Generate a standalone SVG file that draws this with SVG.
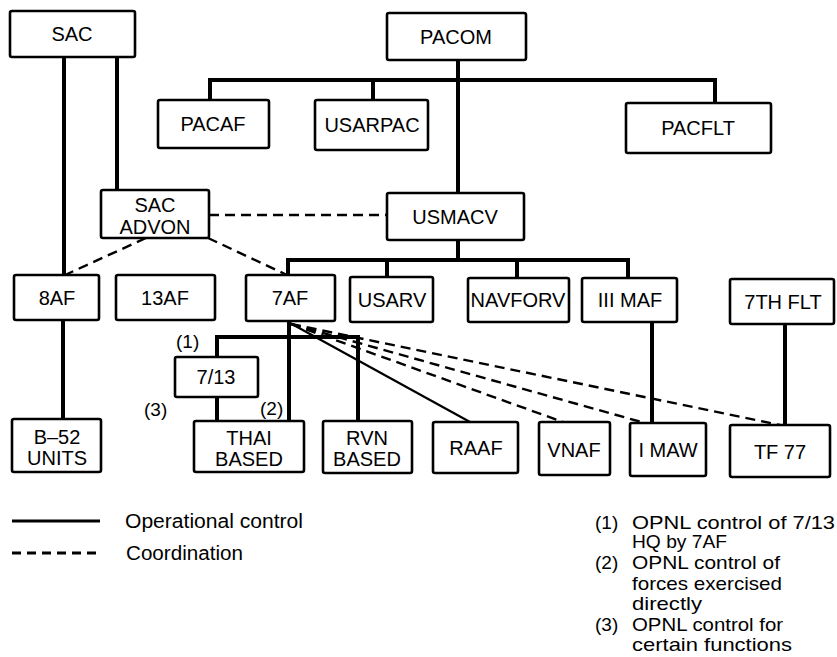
<svg xmlns="http://www.w3.org/2000/svg" width="837" height="657" viewBox="0 0 837 657">
<style>
.box{fill:#fff;stroke:#000;stroke-width:2.6}
.t{font-family:"Liberation Sans",Arial,sans-serif;font-size:20px;fill:#000;text-anchor:middle}
.n{font-family:"Liberation Sans",Arial,sans-serif;font-size:19px;fill:#000}
.lg{font-family:"Liberation Sans",Arial,sans-serif;font-size:20px;fill:#000}
.op{stroke:#000;stroke-width:4;fill:none}
.thin{stroke:#000;stroke-width:2.2;fill:none}
.co{stroke:#000;stroke-width:2.4;fill:none;stroke-dasharray:10 6}
</style>
<rect width="837" height="657" fill="#fff"/>
<g id="connectors">
<line class="op" x1="64" y1="57" x2="64" y2="275"/>
<line class="op" x1="63" y1="320" x2="63" y2="419"/>
<line class="op" x1="117" y1="57" x2="117" y2="190"/>
<line class="op" x1="458" y1="60" x2="458" y2="193"/>
<polyline class="op" points="210,100 210,80 715,80 715,103"/>
<line class="op" x1="373" y1="80" x2="373" y2="100"/>
<line class="op" x1="458" y1="240" x2="458" y2="260"/>
<polyline class="op" points="288,275 288,260 628,260 628,278"/>
<line class="op" x1="387" y1="260" x2="387" y2="277"/>
<line class="op" x1="517" y1="260" x2="517" y2="278"/>
<line class="op" x1="289" y1="321" x2="289" y2="421"/>
<polyline class="op" points="217,357 217,337 358,337 358,421"/>
<line class="op" x1="217" y1="397" x2="217" y2="421"/>
<line class="op" x1="652" y1="322" x2="652" y2="423"/>
<line class="op" x1="785" y1="324" x2="785" y2="425"/>
<line class="thin" x1="290" y1="323" x2="470" y2="422"/>
<line class="co" x1="209" y1="215" x2="387" y2="215"/>
<line class="co" x1="146" y1="238" x2="65" y2="275"/>
<line class="co" x1="208" y1="238" x2="287" y2="275"/>
<line class="co" x1="291" y1="324" x2="563" y2="422"/>
<line class="co" x1="291" y1="324" x2="645" y2="423"/>
<line class="co" x1="291" y1="324" x2="780" y2="425"/>
</g>
<g id="SAC"><rect class="box" x="10" y="11" width="125" height="46" rx="2"/><text class="t" x="72" y="41">SAC</text></g>
<g id="PACOM"><rect class="box" x="387" y="13" width="139" height="47" rx="2"/><text class="t" x="456" y="44">PACOM</text></g>
<g id="PACAF"><rect class="box" x="158" y="100" width="111" height="48" rx="2"/><text class="t" x="213" y="131">PACAF</text></g>
<g id="USARPAC"><rect class="box" x="315" y="100" width="113" height="50" rx="2"/><text class="t" x="372" y="132">USARPAC</text></g>
<g id="PACFLT"><rect class="box" x="626" y="103" width="145" height="50" rx="2"/><text class="t" x="698" y="135">PACFLT</text></g>
<g id="SAC_ADVON"><rect class="box" x="101" y="190" width="108" height="48" rx="2"/><text class="t" x="155" y="212">SAC</text><text class="t" x="155" y="234">ADVON</text></g>
<g id="USMACV"><rect class="box" x="387" y="193" width="137" height="47" rx="2"/><text class="t" x="455" y="224">USMACV</text></g>
<g id="AF8"><rect class="box" x="14" y="275" width="85" height="45" rx="2"/><text class="t" x="57" y="305">8AF</text></g>
<g id="AF13"><rect class="box" x="116" y="275" width="99" height="45" rx="2"/><text class="t" x="165" y="305">13AF</text></g>
<g id="AF7"><rect class="box" x="246" y="275" width="89" height="46" rx="2"/><text class="t" x="290" y="305">7AF</text></g>
<g id="USARV"><rect class="box" x="350" y="277" width="83" height="45" rx="2"/><text class="t" x="392" y="307">USARV</text></g>
<g id="NAVFORV"><rect class="box" x="468" y="278" width="101" height="44" rx="2"/><text class="t" x="518" y="307">NAVFORV</text></g>
<g id="IIIMAF"><rect class="box" x="582" y="278" width="95" height="44" rx="2"/><text class="t" x="630" y="307">III MAF</text></g>
<g id="FLT7"><rect class="box" x="730" y="279" width="104" height="45" rx="2"/><text class="t" x="783" y="309">7TH FLT</text></g>
<g id="AF7_13"><rect class="box" x="175" y="357" width="83" height="40" rx="2"/><text class="t" x="216" y="384">7/13</text></g>
<g id="B52"><rect class="box" x="12" y="419" width="89" height="53" rx="2"/><text class="t" x="57" y="444">B–52</text><text class="t" x="57" y="465">UNITS</text></g>
<g id="THAI"><rect class="box" x="194" y="421" width="110" height="51" rx="2"/><text class="t" x="249" y="445">THAI</text><text class="t" x="249" y="466">BASED</text></g>
<g id="RVN"><rect class="box" x="323" y="421" width="89" height="52" rx="2"/><text class="t" x="367" y="445">RVN</text><text class="t" x="367" y="466">BASED</text></g>
<g id="RAAF"><rect class="box" x="433" y="422" width="85" height="51" rx="2"/><text class="t" x="476" y="455">RAAF</text></g>
<g id="VNAF"><rect class="box" x="539" y="422" width="71" height="53" rx="2"/><text class="t" x="574" y="457">VNAF</text></g>
<g id="IMAW"><rect class="box" x="630" y="423" width="76" height="53" rx="2"/><text class="t" x="668" y="457">I MAW</text></g>
<g id="TF77"><rect class="box" x="730" y="425" width="100" height="52" rx="2"/><text class="t" x="780" y="459">TF 77</text></g>
<g id="labels">
<text class="n" x="176" y="348">(1)</text>
<text class="n" x="144" y="416">(3)</text>
<text class="n" x="260" y="415">(2)</text>
</g>
<g id="legend">
<line x1="12" y1="521" x2="100" y2="521" stroke="#000" stroke-width="3"/>
<line x1="12" y1="553" x2="100" y2="553" stroke="#000" stroke-width="3" stroke-dasharray="9 6"/>
<text class="lg" x="125" y="528" textLength="178" lengthAdjust="spacingAndGlyphs">Operational control</text>
<text class="lg" x="126" y="560" textLength="117" lengthAdjust="spacingAndGlyphs">Coordination</text>
</g>
<g id="notes">
<text class="n" x="595" y="529">(1)</text>
<text class="n" x="632" y="529" textLength="203" lengthAdjust="spacingAndGlyphs">OPNL control of 7/13</text>
<text class="n" x="632" y="548" textLength="95" lengthAdjust="spacingAndGlyphs">HQ by 7AF</text>
<text class="n" x="595" y="569">(2)</text>
<text class="n" x="632" y="569" textLength="148" lengthAdjust="spacingAndGlyphs">OPNL control of</text>
<text class="n" x="632" y="590" textLength="150" lengthAdjust="spacingAndGlyphs">forces exercised</text>
<text class="n" x="632" y="610" textLength="70" lengthAdjust="spacingAndGlyphs">directly</text>
<text class="n" x="595" y="631">(3)</text>
<text class="n" x="632" y="631" textLength="151" lengthAdjust="spacingAndGlyphs">OPNL control for</text>
<text class="n" x="632" y="651" textLength="160" lengthAdjust="spacingAndGlyphs">certain functions</text>
</g>
</svg>
